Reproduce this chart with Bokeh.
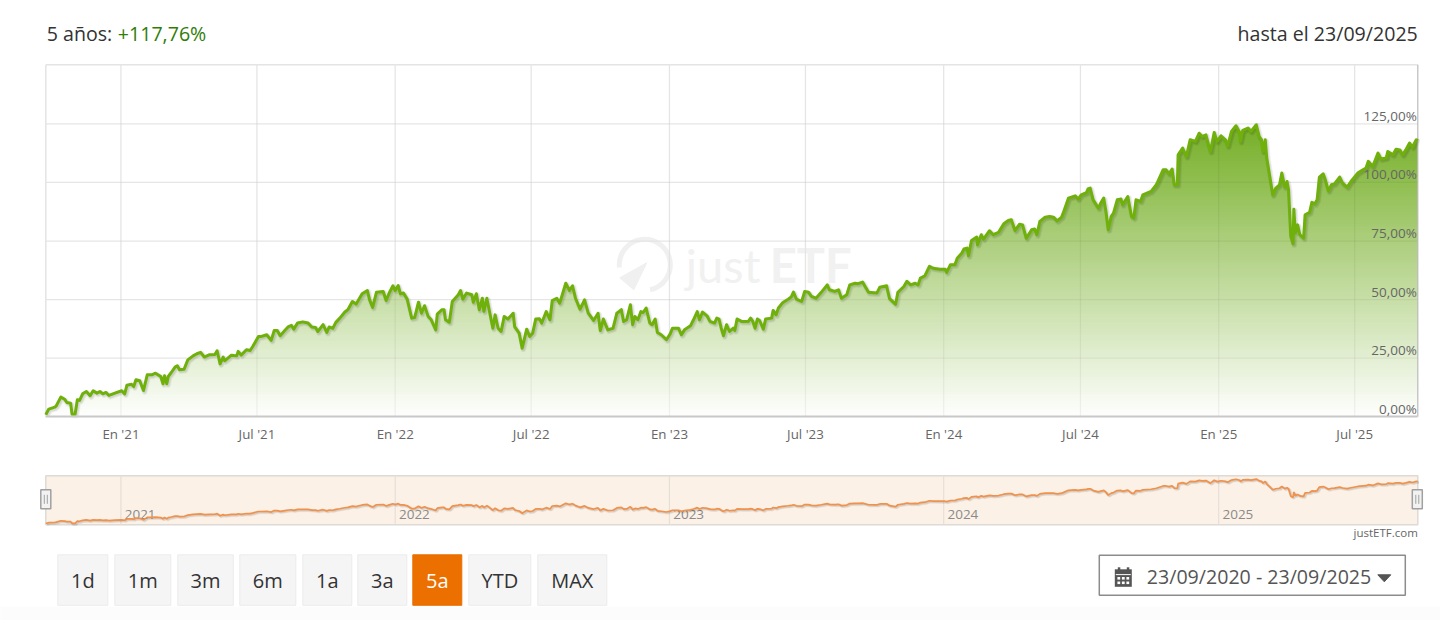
import numpy as np
from bokeh.embed import file_html
from bokeh.resources import INLINE
from bokeh.plotting import figure
from bokeh.models import Range1d, FixedTicker
from bokeh.core.properties import value

# ---------- data (days since 23/09/2020, cumulative gain in %) ----------
days = [0,1,4,12,14,20,25,28,33,35,39,42,45,49,54,59,63,68,72,76,80,84,92,101,105,108,114,117,120,125,130,135,141,146,153,156,158,161,163,167,172,175,178,184,189,196,201,206,211,218,225,228,232,236,238,247,254,256,260,267,272,276,283,287,294,300,304,308,312,318,323,327,330,335,342,349,354,359,362,369,374,377,382,386,391,398,402,408,413,421,428,431,435,440,449,453,457,462,465,469,472,476,481,487,491,496,500,504,509,513,519,521,527,530,532,537,541,549,552,555,560,567,569,573,577,581,583,587,591,595,598,602,606,610,615,622,624,630,634,640,644,648,652,657,660,666,671,674,680,684,692,697,701,705,711,717,722,729,735,738,742,748,755,760,766,769,773,778,781,784,788,792,795,799,804,807,811,814,819,826,831,834,842,846,850,858,862,867,870,874,880,884,890,893,896,899,902,906,910,915,917,920,926,935,938,941,944,947,950,955,958,966,968,972,975,981,988,992,995,999,1006,1010,1015,1019,1025,1032,1040,1043,1050,1055,1059,1066,1070,1077,1081,1087,1095,1106,1110,1119,1123,1131,1134,1142,1146,1151,1157,1161,1164,1170,1176,1181,1190,1197,1199,1204,1210,1213,1219,1222,1226,1228,1232,1239,1240,1245,1248,1256,1261,1268,1275,1281,1285,1290,1296,1300,1305,1312,1316,1319,1323,1330,1336,1341,1346,1352,1354,1361,1370,1374,1378,1385,1387,1390,1394,1401,1404,1408,1411,1414,1418,1421,1426,1431,1433,1440,1445,1448,1451,1457,1460,1471,1478,1487,1491,1495,1499,1502,1506,1507,1513,1518,1523,1530,1535,1539,1544,1550,1555,1559,1564,1570,1573,1578,1584,1589,1590,1593,1600,1604,1611,1615,1618,1620,1623,1625,1629,1633,1637,1642,1645,1649,1652,1654,1657,1660,1661,1663,1666,1669,1674,1676,1682,1685,1689,1692,1695,1700,1703,1707,1711,1715,1722,1726,1732,1737,1746,1753,1757,1760,1766,1773,1777,1784,1786,1793,1797,1802,1806,1810,1815,1819,1824,1826]
gain = [0.9,1.5,3.3,4.1,4.7,8.4,7.5,6.1,5.8,1.1,1.1,7.3,7.0,9.8,10.8,9.0,11.1,10.1,10.8,9.8,10.4,9.1,10.1,11.1,9.8,13.5,13.9,12.9,15.8,15.4,11.2,17.9,17.9,18.6,17.2,14.1,17.5,14.1,17.2,18.9,21.2,21.8,20.1,20.3,24.3,26.0,26.9,27.5,25.5,26.5,26.6,28.2,22.6,25.5,23.9,26.3,26.0,27.9,26.3,28.6,28.3,30.3,34.3,34.3,35.0,32.6,36.8,36.8,34.6,36.8,38.5,39.0,37.4,40.0,40.5,40.0,38.3,38.1,36.4,39.3,36.0,38.3,37.8,40.3,42.0,44.7,45.7,49.2,48.1,52.5,53.9,49.9,46.7,53.1,53.5,49.6,52.8,55.9,53.9,56.0,52.5,52.8,50.2,42.1,42.4,48.9,44.2,47.4,42.8,41.4,37.1,43.8,45.7,45.7,41.4,40.3,49.2,52.1,53.9,50.2,52.8,52.1,48.9,52.5,45.7,50.6,45.0,50.6,44.2,37.8,43.5,37.8,36.4,42.8,41.7,44.2,38.5,35.7,29.3,37.4,34.3,35.7,41.7,41.8,40.0,44.9,41.4,49.6,50.6,48.5,57.0,53.9,55.9,50.6,45.9,49.9,44.2,41.1,44.2,36.8,41.7,37.1,37.8,44.2,45.7,40.7,41.4,47.8,39.3,42.8,41.4,44.9,44.5,46.4,40.0,39.3,41.7,36.0,35.0,32.9,35.4,37.8,37.8,35.0,37.1,38.8,41.4,44.9,41.4,44.7,43.1,40.7,40.0,42.1,41.7,37.8,34.6,39.3,36.4,37.8,36.8,41.7,40.7,40.7,42.1,40.7,37.8,41.7,41.1,37.4,41.7,42.1,45.4,43.5,46.4,48.8,50.2,51.1,53.2,50.2,49.2,53.5,53.2,51.4,50.6,53.1,56.3,54.2,53.5,54.2,50.6,52.1,56.3,57.0,56.8,57.5,53.1,52.8,55.3,55.9,50.4,48.0,53.1,55.6,57.8,56.3,57.0,56.3,59.2,60.2,64.2,63.4,63.0,63.0,61.6,64.9,64.9,67.7,69.8,71.6,72.0,68.7,75.2,76.7,73.4,77.7,75.8,79.4,77.7,78.7,82.4,83.8,84.1,79.5,82.2,81.9,76.2,79.8,80.1,77.7,83.4,85.2,85.5,85.2,83.6,85.2,86.9,93.3,94.3,92.9,94.7,95.7,97.2,97.6,92.6,89.0,91.2,93.3,87.6,79.8,85.5,86.9,92.6,92.9,90.5,94.0,85.5,84.8,92.6,91.9,94.7,96.2,99.0,105.4,105.4,103.7,105.7,99.0,99.0,111.8,114.7,111.1,118.2,117.5,121.0,119.6,120.3,113.2,121.3,117.5,119.9,118.2,115.6,121.8,124.2,121.3,117.5,122.2,123.2,121.8,124.6,119.6,118.2,113.2,118.2,110.4,102.6,94.7,97.6,99.0,104.0,98.0,100.4,96.9,77.0,73.8,88.6,78.4,81.9,77.7,76.2,86.2,87.2,91.5,90.9,92.6,102.3,103.7,101.1,96.4,99.0,99.4,102.3,99.7,98.0,100.4,104.0,105.4,106.1,109.0,106.8,112.5,110.0,110.4,113.2,111.8,114.2,113.9,111.8,113.9,116.8,115.1,118.2,117.76]

x_ticks = [100,281,465,646,830,1011,1195,1377,1561,1742]
x_labels = ["En '21","Jul '21","En '22","Jul '22","En '23","Jul '23","En '24","Jul '24","En '25","Jul '25"]
y_ticks = [0,25,50,75,100,125]
y_labels = ["0,00%","25,00%","50,00%","75,00%","100,00%","125,00%"]
year_ticks = [100,465,830,1195,1561]
year_labels = ["2021","2022","2023","2024","2025"]
buttons = ["1d","1m","3m","6m","1a","3a","5a","YTD","MAX"]

# ---------- geometry ----------
FONT = value("Open Sans")
days_a = np.array(days, float)
gain_a = np.array(gain, float)
SHIFT = 0.7  # canvas offset, in px
PX_DAY = 1372 / 1826.0
def d_of(px): return (px - 46) / PX_DAY
PX_PCT = 352 / 150.2
def v_of(py): return (417 - py) / PX_PCT
NAV_PCT = 0.359
def nv_of(py): return (524 - py) / NAV_PCT

PX = dict(x_range_name="px", y_range_name="px")

p = figure(width=1440, height=620,
           x_range=Range1d(d_of(SHIFT), d_of(1440 + SHIFT)), y_range=Range1d(v_of(620 + SHIFT), v_of(SHIFT)),
           y_axis_type=None, toolbar_location=None, output_backend="svg")
p.extra_x_ranges = {"px": Range1d(SHIFT, 1440 + SHIFT)}
p.extra_y_ranges = {"px": Range1d(620 + SHIFT, SHIFT), "nav": Range1d(nv_of(620 + SHIFT), nv_of(SHIFT))}
p.min_border = 0
p.min_border_left = p.min_border_right = p.min_border_top = p.min_border_bottom = 0
p.outline_line_color = None
p.background_fill_color = "white"
p.border_fill_color = "white"
p.xgrid.visible = False
p.ygrid.visible = False

# faint page band at the very bottom
p.quad(left=[0], right=[1441], top=[607], bottom=[621], fill_color="#fcfcfc", line_color=None, level="image", **PX)

# ---------- heading ----------
p.text(x=[47], y=[34], text=["5 años:"], text_font=FONT, text_font_size="19.6px",
       text_color="#333333", text_baseline="middle", text_align="left", **PX)
p.text(x=[118], y=[34], text=["+117,76%"], text_font=FONT, text_font_size="19.6px",
       text_color="#2f7d07", text_baseline="middle", text_align="left", **PX)
p.text(x=[1418], y=[34], text=["hasta el 23/09/2025"], text_font=FONT, text_font_size="19.6px",
       text_color="#333333", text_baseline="middle", text_align="right", **PX)

# ---------- main chart ----------
ax = p.xaxis[0]
ax.ticker = FixedTicker(ticks=x_ticks)
ax.major_label_overrides = {t: l for t, l in zip(x_ticks, x_labels)}
ax.major_label_text_font = "Open Sans"
ax.major_label_text_font_size = "13.3px"
ax.major_label_text_color = "#666666"
ax.major_tick_line_color = None
ax.minor_tick_line_color = None
ax.axis_line_color = "#c8c8c8"
ax.axis_line_width = 2
ax.major_label_standoff = 2
ax.fixed_location = 0
ax.bounds = (0, 1826)

Y_TOP = v_of(65)
# frame, top and left
p.segment(x0=[0, 0], x1=[1826, 0], y0=[Y_TOP, 0], y1=[Y_TOP, Y_TOP], line_color="#e4e4e4", line_width=1.5, level="image")

# grid beneath the fill
p.segment(x0=x_ticks, x1=x_ticks, y0=[0] * len(x_ticks), y1=[Y_TOP] * len(x_ticks),
          line_color="#f2f2f2", line_width=1.3, level="image")
p.segment(x0=[0] * 5, x1=[1826] * 5, y0=y_ticks[1:], y1=y_ticks[1:],
          line_color="#f2f2f2", line_width=1.3, level="image")

# watermark
wm = "#f0f0f0"
p.arc(x=[645], y=[265], radius=25.5, radius_units="screen",
      start_angle=np.deg2rad(-78), end_angle=np.deg2rad(186), line_color=wm, line_width=5, level="image", **PX)
p.patch(x=[620, 647, 634], y=[278, 263, 290], fill_color=wm, line_color=wm, level="image", **PX)
p.text(x=[686], y=[265], text=["just"], text_font=value("Lato"), text_font_size="47px",
       text_color="#f1f1f1", text_baseline="alphabetic", level="image", **PX)
p.text(x=[770], y=[265], text=["ETF"], text_font=value("Lato"), text_font_size="47px",
       text_font_style="bold", text_color="#f1f1f1", text_baseline="alphabetic", level="image", **PX)

# gradient fill: painted top-down, each layer clipped to the series
TOP = np.array([118, 175, 40])
peak = gain_a.max()
for lvl in np.arange(peak, 0, -3 / PX_PCT):
    t = lvl / peak
    c = (255 + (TOP - 255) * t).round().astype(int)
    p.varea(x=days_a, y1=np.zeros_like(gain_a), y2=np.minimum(gain_a, lvl),
            fill_color="#%02x%02x%02x" % tuple(c), level="image")

# grid over the fill: faint tint that also completes the colour on white
p.segment(x0=x_ticks, x1=x_ticks, y0=[0] * len(x_ticks), y1=[Y_TOP] * len(x_ticks),
          line_color="black", line_alpha=0.05, line_width=1.3, level="image")
p.segment(x0=[0] * 5, x1=[1826] * 5, y0=y_ticks[1:], y1=y_ticks[1:],
          line_color="black", line_alpha=0.05, line_width=1.3, level="image")
p.segment(x0=[1826], x1=[1826], y0=[0], y1=[Y_TOP], line_color="#bcbcbc", line_width=1.2, level="image")

# line + soft shadow
for w, a in [(6, 0.04), (4.5, 0.05), (3, 0.05)]:
    p.line(days_a + 1.6, gain_a - 0.55, line_color="black", line_alpha=a, line_width=w, line_join="round")
p.line(days_a, gain_a, line_color="#6fb00a", line_width=3, line_join="round")

p.text(x=[1826] * len(y_ticks), y=y_ticks, text=y_labels, text_font=FONT, text_font_size="13.5px",
       text_color="#666666", text_align="right", text_baseline="middle", x_offset=-1, y_offset=-8,
       level="annotation")

# ---------- navigator ----------
NAV = dict(y_range_name="nav")
p.quad(left=[0], right=[1826], bottom=[nv_of(525)], top=[nv_of(476)],
       fill_color="#fbf1e7", line_color="#dedad6", line_width=1.5, **NAV)
p.segment(x0=year_ticks, x1=year_ticks, y0=[nv_of(525)] * 5, y1=[nv_of(476)] * 5,
          line_color="#e6dfd8", line_width=1.2, **NAV)
p.text(x=[t + 5 for t in year_ticks], y=[nv_of(515)] * 5, text=year_labels, text_font=FONT,
       text_font_size="13.5px", text_color="#8a8a8a", text_baseline="middle", text_align="left", **NAV)
for w, a in [(3.5, 0.04), (2.5, 0.05), (1.7, 0.06)]:
    p.line(days_a + 1.6, gain_a - 2.8, line_color="black", line_alpha=a, line_width=w, **NAV)
p.line(days_a, gain_a, line_color="#f0914c", line_width=1.7, **NAV)
for cx in (46, 1417.5):
    p.quad(left=[cx - 5], right=[cx + 5], bottom=[509], top=[490],
           fill_color="#f2f2f2", line_color="#a0a0a0", line_width=1.5, **PX)
    p.segment(x0=[cx - 1.5, cx + 1.5], x1=[cx - 1.5, cx + 1.5], y0=[495] * 2, y1=[504] * 2,
              line_color="#a0a0a0", line_width=1, **PX)
p.text(x=[1418], y=[533], text=["justETF.com"], text_font=FONT, text_font_size="11.5px",
       text_color="#666666", text_align="right", text_baseline="middle", **PX)

# ---------- buttons + date picker ----------
btn_left = [58, 115, 178, 240, 303, 358, 413, 469, 538]
btn_right = [108, 171, 233.5, 296, 352, 407, 462, 531, 607]
active = "5a"
p.quad(left=btn_left, right=btn_right, top=[555] * 9, bottom=[605.5] * 9,
       fill_color=["#ec7000" if b == active else "#f5f5f5" for b in buttons],
       line_color=["#ec7000" if b == active else "#ebebeb" for b in buttons], line_width=1, **PX)
p.text(x=[(a + b) / 2 for a, b in zip(btn_left, btn_right)], y=[581] * 9, text=buttons, text_font=FONT,
       text_font_size="20px", text_align="center", text_baseline="middle",
       text_color=["white" if b == active else "#333333" for b in buttons], **PX)
p.quad(left=[1099.5], right=[1405.5], top=[555.5], bottom=[595.5], fill_color="white",
       line_color="#8c8c8c", line_width=1.5, **PX)
p.text(x=[1147], y=[577], text=["23/09/2020 - 23/09/2025"], text_font=FONT, text_font_size="19.6px",
       text_color="#555555", text_align="left", text_baseline="middle", **PX)
# calendar icon
p.quad(left=[1115], right=[1132], top=[569.5], bottom=[587], fill_color="#555555", line_color=None, **PX)
p.quad(left=[1118, 1127], right=[1120.5, 1129.5], top=[567.5] * 2, bottom=[571] * 2, fill_color="#555555", line_color=None, **PX)
p.quad(left=[1116], right=[1131], top=[574.3], bottom=[575.3], fill_color="white", line_color=None, **PX)
p.rect(x=[1119, 1123.5, 1128] * 2, y=[578.5] * 3 + [583] * 3, width=2.8, height=2.6, fill_color="white", line_color=None, **PX)
# caret
p.patch(x=[1378, 1391, 1384.5], y=[575, 575, 582], fill_color="#555555", line_color="#555555", line_width=1, **PX)

open("out.html", "w").write(file_html(p, INLINE))
